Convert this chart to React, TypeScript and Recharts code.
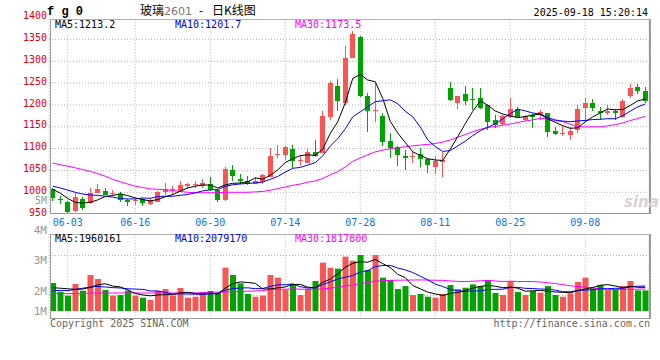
import { ComposedChart, Bar, Line, XAxis, YAxis, CartesianGrid, Cell } from "recharts";

const RED = "#fa5555";
const GREEN = "#00a400";
const MONO = "'DejaVu Sans Mono', monospace";
const CJK = "'Noto Sans CJK SC', sans-serif";

// trading days, 05-29 .. 09-18
const DATES = [
  "05-29", "05-30", "06-03", "06-04", "06-05", "06-06", "06-09", "06-10", "06-11", "06-12",
  "06-13", "06-16", "06-17", "06-18", "06-19", "06-20", "06-23", "06-24", "06-25", "06-26",
  "06-27", "06-30", "07-01", "07-02", "07-03", "07-04", "07-07", "07-08", "07-09", "07-10",
  "07-11", "07-14", "07-15", "07-16", "07-17", "07-18", "07-21", "07-22", "07-23", "07-24",
  "07-25", "07-28", "07-29", "07-30", "07-31", "08-01", "08-04", "08-05", "08-06", "08-07",
  "08-08", "08-11", "08-12", "08-13", "08-14", "08-15", "08-18", "08-19", "08-20", "08-21",
  "08-22", "08-25", "08-26", "08-27", "08-28", "08-29", "09-01", "09-02", "09-03", "09-04",
  "09-05", "09-08", "09-09", "09-10", "09-11", "09-12", "09-15", "09-16", "09-17", "09-18",
];

const OPEN = [
  1007, 985, 978, 957, 985, 975, 999, 1003, 996, 997,
  983, 980, 985, 974, 979, 1000, 1005, 1004, 1015, 1018,
  1015, 1019, 1006, 983, 1052, 1031, 1026, 1020, 1023, 1036,
  1085, 1086, 1099, 1072, 1068, 1093, 1091, 1172, 1243, 1205,
  1308, 1356, 1220, 1186, 1175, 1118, 1103, 1084, 1080, 1087,
  1076, 1059, 1070, 1238, 1205, 1225, 1214, 1217, 1200, 1166,
  1156, 1173, 1190, 1166, 1176, 1177, 1181, 1141, 1134, 1131,
  1143, 1192, 1204, 1186, 1182, 1185, 1173, 1220, 1240, 1233,
];
const HIGH = [
  1010, 992, 980, 998, 990, 1010, 1020, 1010, 1006, 1001,
  985, 987, 988, 986, 1004, 1022, 1015, 1026, 1021, 1025,
  1030, 1034, 1008, 1058, 1063, 1043, 1037, 1035, 1043, 1102,
  1108, 1106, 1108, 1082, 1100, 1120, 1185, 1255, 1260, 1335,
  1370, 1358, 1228, 1251, 1181, 1135, 1105, 1097, 1093, 1101,
  1076, 1082, 1093, 1253, 1220, 1243, 1238, 1238, 1200, 1177,
  1178, 1215, 1195, 1177, 1179, 1189, 1181, 1150, 1152, 1150,
  1200, 1217, 1213, 1196, 1201, 1190, 1214, 1249, 1248, 1240,
];
const LOW = [
  980, 973, 953, 954, 960, 973, 998, 993, 993, 978,
  968, 972, 969, 972, 977, 993, 995, 1000, 1010, 1010,
  1010, 1003, 978, 980, 1025, 1020, 1016, 1018, 1020, 1034,
  1078, 1075, 1055, 1060, 1066, 1080, 1090, 1166, 1185, 1200,
  1308, 1218, 1139, 1162, 1106, 1078, 1061, 1052, 1067, 1059,
  1044, 1042, 1036, 1208, 1190, 1200, 1189, 1190, 1143, 1147,
  1154, 1170, 1172, 1163, 1148, 1166, 1126, 1131, 1128, 1119,
  1135, 1162, 1187, 1166, 1177, 1166, 1169, 1217, 1225, 1204,
];
const CLOSE = [
  987, 982, 955, 989, 963, 998, 1008, 995, 999, 983,
  977, 982, 976, 983, 1000, 1008, 1007, 1016, 1019, 1020,
  1022, 1006, 983, 1054, 1038, 1026, 1020, 1027, 1039, 1083,
  1088, 1104, 1071, 1074, 1092, 1082, 1175, 1251, 1208, 1308,
  1362, 1220, 1187, 1189, 1116, 1101, 1086, 1078, 1082, 1076,
  1063, 1071, 1073, 1211, 1220, 1210, 1213, 1192, 1162, 1154,
  1175, 1191, 1173, 1174, 1172, 1184, 1137, 1134, 1136, 1141,
  1191, 1204, 1192, 1181, 1186, 1181, 1208, 1238, 1233, 1208,
];
const VOLUME = [
  2330000, 1610000, 1280000, 2250000, 1690000, 3000000, 2670000, 1750000, 1280000, 1330000,
  1690000, 1280000, 1110000, 920000, 1670000, 1830000, 1280000, 1920000, 1110000, 1190000,
  1560000, 1670000, 1530000, 3610000, 3000000, 2310000, 1420000, 1190000, 1280000, 3000000,
  2780000, 1750000, 2250000, 1330000, 1830000, 2500000, 4030000, 3610000, 3530000, 4530000,
  4190000, 4670000, 3420000, 4670000, 2780000, 2580000, 1830000, 2080000, 1330000, 1420000,
  1190000, 1110000, 1420000, 2170000, 1830000, 1940000, 2220000, 2080000, 2580000, 1500000,
  1330000, 2500000, 1580000, 1330000, 1670000, 1530000, 2080000, 1330000, 1190000, 1470000,
  2420000, 2780000, 1890000, 2170000, 1750000, 1830000, 2080000, 2500000, 1720000, 1720000,
];

// averages before the window is full
const MA5_HEAD = [1007, 998, 986, 977];
const MA10_HEAD = [1014, 1010, 1005, 1000, 996, 994, 993, 991, 989];
const MA30_HEAD = [
  1067, 1063, 1060, 1056, 1052, 1048, 1043, 1037, 1030, 1024,
  1019, 1014, 1011, 1008, 1007, 1006, 1004, 1002, 1000, 999,
  999, 999, 999, 1000, 1000, 1000, 1000, 1001, 1002,
];
const VMA5_HEAD = [1940000, 1900000, 1850000, 1800000];
const VMA10_HEAD = [1690000, 1720000, 1700000, 1800000, 1900000, 2000000, 2050000, 2000000, 1950000];
const VMA30_HEAD = [
  1450000, 1450000, 1450000, 1450000, 1450000, 1500000, 1500000, 1500000, 1500000, 1500000,
  1500000, 1500000, 1500000, 1500000, 1500000, 1500000, 1500000, 1500000, 1500000, 1500000,
  1530000, 1550000, 1570000, 1590000, 1610000, 1630000, 1650000, 1670000, 1700000,
];

const DATE_TICKS = ["06-03", "06-16", "06-30", "07-14", "07-28", "08-11", "08-25", "09-08"];
const PRICE_TICKS = [950, 1000, 1050, 1100, 1150, 1200, 1250, 1300, 1350, 1400];
const PRICE_GRID = [1000, 1050, 1100, 1150, 1200, 1250, 1300, 1350];
const VOL_GRID = [1292000, 2958000, 4625000];

function movingAverage(values: number[], n: number, head: number[]) {
  return values.map((_, i) => {
    if (i < n - 1) return head[i];
    let s = 0;
    for (let k = i - n + 1; k <= i; k++) s += values[k];
    return s / n;
  });
}

const ma5 = movingAverage(CLOSE, 5, MA5_HEAD);
const ma10 = movingAverage(CLOSE, 10, MA10_HEAD);
const ma30 = movingAverage(CLOSE, 30, MA30_HEAD);
const vma5 = movingAverage(VOLUME, 5, VMA5_HEAD);
const vma10 = movingAverage(VOLUME, 10, VMA10_HEAD);
const vma30 = movingAverage(VOLUME, 30, VMA30_HEAD);

const rows = DATES.map((date, i) => ({
  date,
  open: OPEN[i],
  high: HIGH[i],
  low: LOW[i],
  close: CLOSE[i],
  vol: VOLUME[i],
  up: CLOSE[i] >= OPEN[i],
  ma5: ma5[i],
  ma10: ma10[i],
  ma30: ma30[i],
  vma5: vma5[i],
  vma10: vma10[i],
  vma30: vma30[i],
}));

function Candle(props: any) {
  const { x, y, width, height, payload } = props;
  const { open, close, high, low } = payload;
  const top = Math.min(y, y + height);
  const h = Math.abs(height);
  const perUnit = h / (high - low);
  const color = close >= open ? RED : GREEN;
  const bodyTop = top + (high - Math.max(open, close)) * perUnit;
  const bodyH = Math.max(1, Math.abs(open - close) * perUnit);
  const cx = Math.floor(x + width / 2);
  return (
    <g shapeRendering="crispEdges">
      <line x1={cx + 0.5} x2={cx + 0.5} y1={top} y2={top + h} stroke={color} strokeWidth={1} />
      <rect x={cx - 2} y={bodyTop} width={5} height={bodyH} fill={color} />
    </g>
  );
}

function PriceTick({ x, y, payload }: any) {
  return (
    <text x={x} y={y + 1.6} textAnchor="end" fill="#e00000" fontSize={10} fontFamily={MONO}>
      {payload.value}
    </text>
  );
}

function DateTick({ x, y, payload }: any) {
  return (
    <text x={x} y={y + 12.2} textAnchor="middle" fill="#0a78d8" fontSize={10} fontFamily={MONO}>
      {payload.value}
    </text>
  );
}

export default function App() {
  return (
    <div style={{ position: "fixed", left: 0, top: 0, width: 660, height: 360, background: "#fff", overflow: "hidden" }}>
      <div style={{ position: "absolute", left: 0, top: 0 }}>
        <ComposedChart width={660} height={232} data={rows} margin={{ top: 19.3, right: 11, bottom: 0.7, left: 0 }}>
          <CartesianGrid stroke="#b4b4b4" strokeDasharray="1 2" horizontalValues={PRICE_GRID} />
          <XAxis
            dataKey="date"
            ticks={DATE_TICKS}
            interval={0}
            height={18}
            axisLine={false}
            tickLine={false}
            tickSize={0}
            tickMargin={0}
            tick={<DateTick />}
          />
          <YAxis
            type="number"
            domain={[952, 1396]}
            ticks={PRICE_TICKS}
            interval={0}
            width={49}
            axisLine={false}
            tickLine={false}
            tickSize={0}
            tickMargin={2}
            tick={<PriceTick />}
          />
          <Bar dataKey={(d: any) => [d.low, d.high]} barSize={5} shape={<Candle />} isAnimationActive={false} />
          <Line dataKey="ma30" stroke="#ff00ff" strokeWidth={1} dot={false} isAnimationActive={false} />
          <Line dataKey="ma10" stroke="#0000ff" strokeWidth={1} dot={false} isAnimationActive={false} />
          <Line dataKey="ma5" stroke="#000000" strokeWidth={1} dot={false} isAnimationActive={false} />
        </ComposedChart>
      </div>

      <div style={{ position: "absolute", left: 0, top: 225 }}>
        <ComposedChart width={660} height={100} data={rows} margin={{ top: 9.3, right: 11, bottom: 6.7, left: 49 }}>
          <CartesianGrid stroke="#b4b4b4" strokeDasharray="1 2" horizontalValues={VOL_GRID} />
          <XAxis dataKey="date" ticks={DATE_TICKS} interval={0} hide />
          <YAxis type="number" domain={[-608000, 6392000]} hide />
          <Bar dataKey="vol" barSize={6} isAnimationActive={false}>
            {rows.map((r) => (
              <Cell key={r.date} fill={r.up ? RED : GREEN} />
            ))}
          </Bar>
          <Line dataKey="vma30" stroke="#ff00ff" strokeWidth={1} dot={false} isAnimationActive={false} />
          <Line dataKey="vma10" stroke="#0000ff" strokeWidth={1} dot={false} isAnimationActive={false} />
          <Line dataKey="vma5" stroke="#000000" strokeWidth={1} dot={false} isAnimationActive={false} />
        </ComposedChart>
      </div>

      {/* pane frames */}
      <div style={{ position: "absolute", left: 50, top: 19, width: 601, height: 195, boxSizing: "border-box", borderTop: "1px solid #b0b0b0", borderLeft: "1px solid #999", borderBottom: "1px solid #999", borderRight: "2px solid #999" }} />
      <div style={{ position: "absolute", left: 50, top: 234, width: 601, height: 85, boxSizing: "border-box", borderTop: "1px solid #b0b0b0", borderLeft: "1px solid #999", borderBottom: "1px solid #999", borderRight: "2px solid #999" }} />

      <svg width={660} height={360} style={{ position: "absolute", left: 0, top: 0 }}>
        <text x={47} y={15} fontSize={12} fontWeight="bold" fontFamily="'Liberation Mono', monospace" fill="#000">f g 0</text>
        <text y={15} fontSize={12} fontFamily={CJK} fill="#000">
          <tspan x={140}>玻璃</tspan>
          <tspan x={164} fill="#777" fontSize={11} fontFamily="'DejaVu Sans', sans-serif">2601</tspan>
          <tspan x={199}>-</tspan>
          <tspan x={212}>日K线图</tspan>
        </text>
        <text x={648} y={16} textAnchor="end" fontSize={10} fontFamily={MONO} fill="#000">2025-09-18 15:20:14</text>

        <text x={55} y={27.5} fontSize={10} fontFamily={MONO} fill="#000">MA5:1213.2</text>
        <text x={175} y={27.5} fontSize={10} fontFamily={MONO} fill="#0000ee">MA10:1201.7</text>
        <text x={295} y={27.5} fontSize={10} fontFamily={MONO} fill="#ff00ff">MA30:1173.5</text>

        <text x={47} y={203.6} textAnchor="end" fontSize={10} fontFamily={MONO} fill="#999">5M</text>
        <text x={624} y={207} fontSize={15} fontStyle="italic" fontWeight="bold" fontFamily="'DejaVu Sans', sans-serif" fill="#ddd0d0">sina</text>

        <text x={47} y={234} textAnchor="end" fontSize={11} fontFamily={MONO} fill="#999">4M</text>
        <text x={47} y={264} textAnchor="end" fontSize={11} fontFamily={MONO} fill="#999">3M</text>
        <text x={47} y={294.7} textAnchor="end" fontSize={11} fontFamily={MONO} fill="#999">2M</text>
        <text x={47} y={315} textAnchor="end" fontSize={11} fontFamily={MONO} fill="#999">1M</text>

        <text x={55} y={242} fontSize={10} fontFamily={MONO} fill="#000">MA5:1960161</text>
        <text x={175} y={242} fontSize={10} fontFamily={MONO} fill="#0000ee">MA10:2079170</text>
        <text x={295} y={242} fontSize={10} fontFamily={MONO} fill="#ff00ff">MA30:1817800</text>

        <text x={50} y={327} fontSize={10} fontFamily={MONO} fill="#666">Copyright 2025 SINA.COM</text>
        <text x={650} y={327} textAnchor="end" fontSize={10} fontFamily={MONO} fill="#666">http://finance.sina.com.cn</text>
      </svg>
    </div>
  );
}
